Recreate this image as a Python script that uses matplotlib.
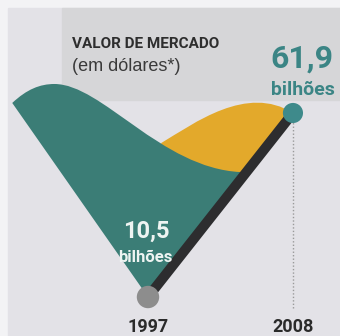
"""Market value chart: two yearly values joined by a bar over a decorative ribbon."""
import matplotlib
matplotlib.use("Agg")
import matplotlib.pyplot as plt
from matplotlib.path import Path
from matplotlib.patches import PathPatch, Rectangle

years = [1997, 2008]
values = [10.5, 61.9]
unit = "bilhões"
title = "VALOR DE MERCADO"
subtitle = "(em dólares*)"

GREEN = "#3b7d76"
YELLOW = "#e3a92b"
TEAL_TEXT = "#3b8585"
BAR = "#2d2d2f"
BOLD = ["Roboto", "DejaVu Sans"]


def fmt(v):
    return f"{v:.1f}".replace(".", ",")


def ribbon_paths(x0, y0, x1, y1):
    """Green wave and yellow wave hanging off the line between the two points."""
    tip = (x0 - 10.3, y0 + 54.2)
    peak = (x0 - 7.1, y0 + 59.5)
    end = (x0 + 7.0, y0 + 34.9)
    green = [
        (tip, Path.MOVETO),
        ((x0 - 9.2, y0 + 58.0), Path.CURVE4),
        ((x0 - 8.2, y0 + 59.5), Path.CURVE4),
        (peak, Path.CURVE4),
        ((x0 - 3.5, y0 + 59.5), Path.CURVE4),
        ((x0 + 1.0, y0 + 36.0), Path.CURVE4),
        (end, Path.CURVE4),
        ((x0 + 6.5, y0 + 30.4), Path.LINETO),
        ((x0, y0), Path.LINETO),
        (tip, Path.CLOSEPOLY),
    ]
    start = (x0 + 1.0, y0 + 43.0)
    yellow = [
        (start, Path.MOVETO),
        ((x0 + 3.5, y0 + 48.5), Path.CURVE4),
        ((x1 - 3.5, y1 + 8.1), Path.CURVE4),
        ((x1, y1), Path.CURVE4),
        ((x0 + 6.5, y0 + 30.4), Path.LINETO),
        ((x0 + 1.0, y0 + 32.0), Path.LINETO),
        (start, Path.CLOSEPOLY),
    ]
    mk = lambda seg: Path([p for p, _ in seg], [c for _, c in seg])
    return mk(green), mk(yellow)


fig = plt.figure(figsize=(3.40, 3.36), dpi=100)
fig.patch.set_facecolor("#f3f3f5")
ax = fig.add_axes([0, 0, 1, 1])
ax.set_xlim(1985.77, 2011.57)
ax.set_ylim(-0.39, 93.46)
ax.axis("off")

# page background panels
ax.add_patch(Rectangle((8 / 340, 0), 1, 1 - 8 / 336, transform=ax.transAxes,
                       color="#e3e2e7", zorder=0))
ax.add_patch(Rectangle((62 / 340, 1 - 100 / 336), 1, 92 / 336, transform=ax.transAxes,
                       color="#d6d6d8", zorder=0))

(x0, x1), (y0, y1) = years, values
green, yellow = ribbon_paths(x0, y0, x1, y1)
ax.add_patch(PathPatch(yellow, facecolor=YELLOW, edgecolor="none", zorder=2))
ax.add_patch(PathPatch(green, facecolor=GREEN, edgecolor="none", zorder=3))

# dotted drop line under the last point
ax.plot([x1, x1], [7.5, y1], color="#9a9a9a", linestyle=(0, (1, 1.5)), lw=1, zorder=1)

ax.plot(years, values, color=BAR, lw=7.2, solid_capstyle="butt", zorder=4)
ax.scatter(years, values, s=[260, 210], color=["#8d8d8d", "#3e8a8b"], zorder=5,
           edgecolors="none")

# header
ax.text(72 / 340, 1 - 48 / 336, title, transform=ax.transAxes, family=BOLD,
        weight="bold", fontsize=11, color="#2e2e2e", va="baseline")
ax.text(72 / 340, 1 - 71 / 336, subtitle, transform=ax.transAxes,
        family=["Liberation Sans", "DejaVu Sans"], fontsize=13, color="#3a3a3a",
        va="baseline")

# value labels
ax.annotate(fmt(y1), (x1, y1), xytext=(6.5, 33), textcoords="offset points",
            ha="center", va="baseline", family=BOLD, weight="bold",
            fontsize=23, color=TEAL_TEXT)
ax.annotate(unit, (x1, y1), xytext=(7, 13), textcoords="offset points",
            ha="center", va="baseline", family=BOLD, weight="bold",
            fontsize=14, color=TEAL_TEXT)
ax.annotate(fmt(y0), (x0, y0), xytext=(-1.5, 42.5), textcoords="offset points",
            ha="center", va="baseline", family=BOLD, weight="bold",
            fontsize=17, color="#eef4f2", zorder=6)
ax.annotate(unit, (x0, y0), xytext=(-2, 25), textcoords="offset points",
            ha="center", va="baseline", family=BOLD, weight="bold",
            fontsize=12, color="#eef4f2", zorder=6)

# year labels
for yr in years:
    ax.text(yr, 0.012, str(yr), transform=ax.get_xaxis_transform(), ha="center",
            va="baseline", family=BOLD, weight="bold", fontsize=13, color="#2a2a2a")

fig.savefig("out.png", dpi=100, facecolor=fig.get_facecolor())
